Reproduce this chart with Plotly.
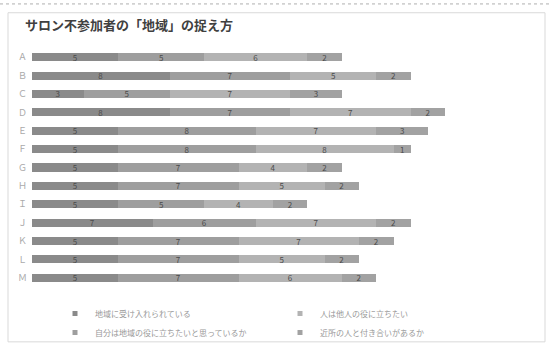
import plotly.graph_objects as go

categories = ["Ａ", "Ｂ", "Ｃ", "Ｄ", "Ｅ", "Ｆ", "Ｇ", "Ｈ", "Ｉ", "Ｊ", "Ｋ", "Ｌ", "Ｍ"]
s1_name = "地域に受け入れられている"
s2_name = "自分は地域の役に立ちたいと思っているか"
s3_name = "人は他人の役に立ちたい"
s4_name = "近所の人と付き合いがあるか"
s1 = [5, 8, 3, 8, 5, 5, 5, 5, 5, 7, 5, 5, 5]
s2 = [5, 7, 5, 7, 8, 8, 7, 7, 5, 6, 7, 7, 7]
s3 = [6, 5, 7, 7, 7, 8, 4, 5, 4, 7, 7, 5, 6]
s4 = [2, 2, 3, 2, 3, 1, 2, 2, 2, 2, 2, 2, 2]

series = [
    (s1_name, s1, "#8a8a8a", 1),
    (s2_name, s2, "#9e9e9e", 3),
    (s3_name, s3, "#b3b3b3", 2),
    (s4_name, s4, "#a2a2a2", 4),
]

fig = go.Figure()
for name, vals, color, rank in series:
    fig.add_trace(go.Bar(
        y=categories, x=vals, name=name, orientation="h",
        marker=dict(color=color, line=dict(width=0)),
        text=vals, textposition="inside", insidetextanchor="middle",
        constraintext="none", textangle=0,
        textfont=dict(size=8, color="#4a4a4a", family="Noto Sans CJK JP"),
        showlegend=False, width=0.44,
    ))
for name, vals, color, rank in series:
    fig.add_trace(go.Scatter(
        x=[None], y=[None], mode="markers", name=name,
        marker=dict(symbol="square", size=5, color=color),
        legendrank=rank, showlegend=True, hoverinfo="skip",
    ))

W, H = 552, 351
ml, mr, mt, mb = 32, 38, 48, 59
pw, ph = W - ml - mr, H - mt - mb

def px2x(px):
    return (px - ml) / pw

def px2y(py):
    return (H - mb - py) / ph

shapes = [
    dict(type="rect", xref="paper", yref="paper",
         x0=px2x(8), x1=px2x(545), y0=px2y(348), y1=px2y(12),
         line=dict(color="#d9d9d9", width=1), layer="below"),
    dict(type="line", xref="paper", yref="paper",
         x0=px2x(0), x1=px2x(552), y0=px2y(3), y1=px2y(3),
         line=dict(color="#b0b0b0", width=1, dash="dot")),
]

fig.update_layout(
    width=W, height=H,
    margin=dict(l=ml, r=mr, t=mt, b=mb),
    barmode="stack",
    uniformtext=dict(mode=False),
    paper_bgcolor="white", plot_bgcolor="white",
    font=dict(family="Noto Sans CJK JP", color="#999999"),
    title=dict(text="<b>サロン不参加者の「地域」の捉え方</b>",
               x=25 / W, xanchor="left", y=1 - 25 / H, yanchor="middle",
               font=dict(size=13, color="#404040", family="Noto Sans CJK JP")),
    xaxis=dict(range=[0, 28], visible=False),
    yaxis=dict(autorange="reversed", showgrid=False, zeroline=False,
               showline=False, ticks="", ticklabelstandoff=4,
               categoryorder="array", categoryarray=categories,
               tickfont=dict(size=9, color="#aaaaaa", family="Noto Sans CJK JP")),
    legend=dict(orientation="h", xref="container", yref="container",
                x=55 / W, xanchor="left", y=1 - 299 / H, yanchor="top",
                entrywidth=180, entrywidthmode="pixels",
                traceorder="normal", bgcolor="rgba(0,0,0,0)",
                font=dict(size=8, color="#999999", family="Noto Sans CJK JP"),
                itemwidth=30, tracegroupgap=0),
    shapes=shapes,
    showlegend=True,
)

fig.write_html("out.html")
